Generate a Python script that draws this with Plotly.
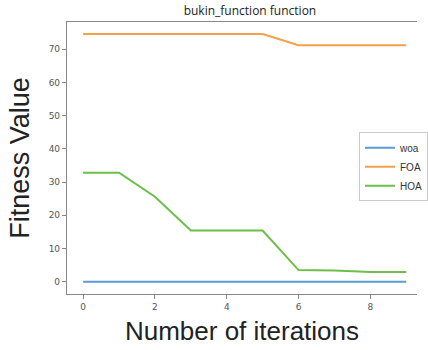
import plotly.graph_objects as go

iterations = list(range(10))
woa = [0, 0, 0, 0, 0, 0, 0, 0, 0, 0]
foa = [74.6, 74.6, 74.6, 74.6, 74.6, 74.6, 71.2, 71.2, 71.2, 71.2]
hoa = [32.8, 32.8, 25.6, 15.4, 15.4, 15.4, 3.5, 3.4, 2.9, 2.9]

series = [("woa", woa, "#5a9ad6"), ("FOA", foa, "#f5a04a"), ("HOA", hoa, "#6cbf4a")]

fig = go.Figure()
for name, vals, col in series:
    fig.add_trace(go.Scatter(x=iterations, y=vals, mode="lines", name=name,
                             line=dict(color=col, width=2)))

fig.update_layout(
    width=428, height=350,
    margin=dict(l=67, r=0, t=22, b=56),
    paper_bgcolor="white", plot_bgcolor="white",
    title=dict(text="bukin_function function", x=0.584, xanchor="center",
               y=1 - 11 / 350, yanchor="middle",
               font=dict(family="Open Sans", size=12, color="#222")),
    font=dict(family="DejaVu Sans", size=9, color="#555"),
    legend=dict(x=0.835, y=0.595, xanchor="left", yanchor="top",
                bgcolor="white", bordercolor="#cccccc", borderwidth=1,
                font=dict(family="Liberation Sans", size=10, color="#333"),
                tracegroupgap=0, itemwidth=30),
    showlegend=True,
)
fig.update_xaxes(range=[-0.45, 9.30], tickvals=[0, 2, 4, 6, 8],
                 showgrid=False, zeroline=False, showline=True, linecolor="#888",
                 linewidth=1.2, mirror=True, ticks="outside", ticklen=4,
                 tickcolor="#888",
                 title=dict(text="Number of iterations", standoff=10,
                            font=dict(family="Liberation Sans", size=26, color="#222")))
fig.update_yaxes(range=[-3.7, 78.2], tickvals=[0, 10, 20, 30, 40, 50, 60, 70],
                 showgrid=False, zeroline=False, showline=True, linecolor="#888",
                 linewidth=1.2, ticks="outside", ticklen=4, tickcolor="#888",
                 title=dict(text="Fitness Value", standoff=11,
                            font=dict(family="Liberation Sans", size=27, color="#222")))

fig.write_html("out.html")
